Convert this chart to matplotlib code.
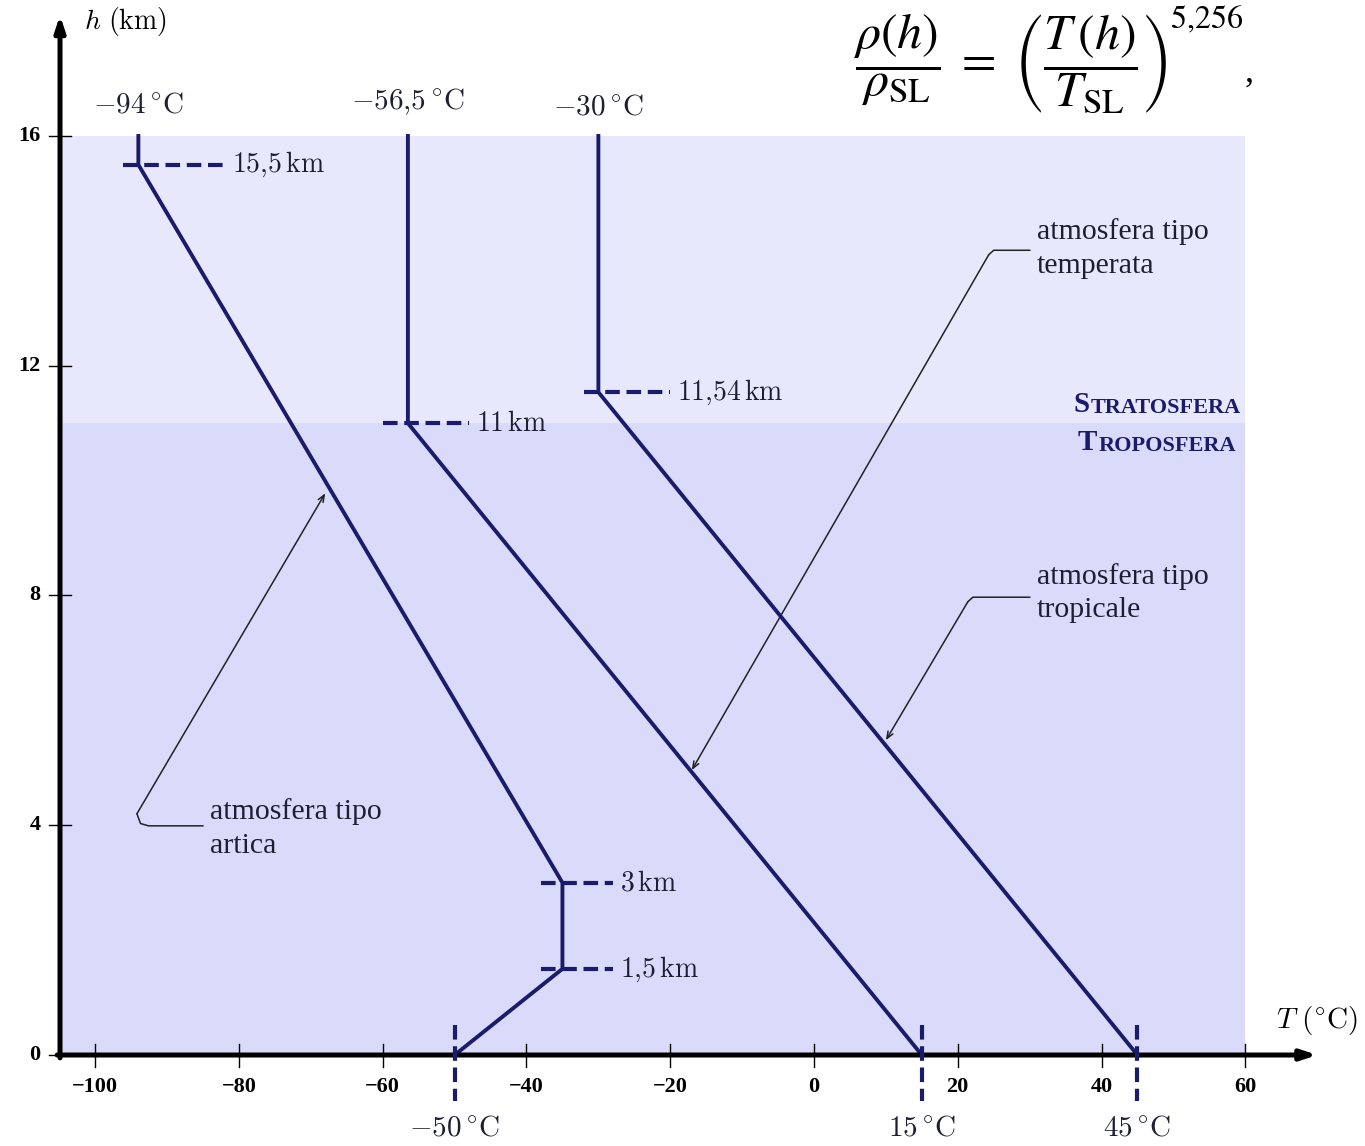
import matplotlib
matplotlib.use('Agg')
import matplotlib.pyplot as plt

# temperature profiles (T in degC, h in km)
arctic_T = [-50, -35, -35, -94, -94]
arctic_h = [0, 1.5, 3, 15.5, 16]
temperate_T = [15, -56.5, -56.5]
temperate_h = [0, 11, 16]
tropical_T = [45, -30, -30]
tropical_h = [0, 11.54, 16]

# breakpoints marked with a dashed tick and a height label
break_T = [-94, -56.5, -30, -35, -35]
break_h = [15.5, 11, 11.54, 3, 1.5]
break_labels = [r'$15{,}5\,\mathrm{km}$', r'$11\,\mathrm{km}$', r'$11{,}54\,\mathrm{km}$',
                r'$3\,\mathrm{km}$', r'$1{,}5\,\mathrm{km}$']

ground_T = [-50, 15, 45]
ground_labels = [r'$-50\,^{\circ}\mathrm{C}$', r'$15\,^{\circ}\mathrm{C}$', r'$45\,^{\circ}\mathrm{C}$']
top_T = [-94, -56.5, -30]
top_labels = [r'$-94\,^{\circ}\mathrm{C}$', r'$-56{,}5\,^{\circ}\mathrm{C}$', r'$-30\,^{\circ}\mathrm{C}$']

xticks = [-100, -80, -60, -40, -20, 0, 20, 40, 60]
yticks = [0, 4, 8, 12, 16]

NAVY = '#1b1b6b'
TXT = '#1e1e33'
SERIF = 'Liberation Serif'
DASH = (0, (3.5, 1.6))

fig = plt.figure(figsize=(13.65, 11.46), dpi=100)
ax = fig.add_axes([0, 0, 1, 1])
ax.set_xlim(-113.25, 76.66)
ax.set_ylim(-1.584, 18.367)
ax.axis('off')

# layers
ax.fill_between([-105, 60], 11, 16, color='#e8e8fc', lw=0, zorder=0)
ax.fill_between([-105, 60], 0, 11, color='#dadafb', lw=0, zorder=0)

# axes with arrows
ax.annotate('', xy=(70, 0), xytext=(-105.3, 0),
            arrowprops=dict(arrowstyle='-|>,head_length=0.9,head_width=0.3',
                            lw=3.6, color='black', shrinkA=0, shrinkB=0), zorder=5)
ax.annotate('', xy=(-104.9, 18.1), xytext=(-104.9, -0.05),
            arrowprops=dict(arrowstyle='-|>,head_length=0.9,head_width=0.3',
                            lw=3.6, color='black', shrinkA=0, shrinkB=0), zorder=5)

for t in xticks:
    ax.plot([t, t], [-0.2, 0.2], color='black', lw=1.0, zorder=6)
    ax.text(t, -0.55, '\u2212' + str(abs(t)) if t < 0 else str(t), ha='center', va='center',
            fontsize=16, fontweight='bold', family=SERIF)
for h in yticks:
    ax.plot([-106.4, -103.4], [h, h], color='black', lw=1.0, zorder=6)
    ax.text(-107.6, h, str(h), ha='right', va='center',
            fontsize=16, fontweight='bold', family=SERIF)

ax.text(-101.6, 18.0, r'$h\ (\mathrm{km})$', fontsize=20, va='center',
        math_fontfamily='cm')
ax.text(64.3, 0.6, r'$T\ (^{\circ}\mathrm{C})$', fontsize=21, va='center',
        math_fontfamily='cm')

# profiles
for T, h in [(arctic_T, arctic_h), (temperate_T, temperate_h), (tropical_T, tropical_h)]:
    ax.plot(T, h, color=NAVY, lw=2.8, solid_joinstyle='miter', zorder=4)

dash_left = [2.2, 3.5, 2.0, 3.0, 3.0]
dash_right = [12.0, 8.5, 10.0, 7.0, 7.0]
for T, h, lab, dl, dr in zip(break_T, break_h, break_labels, dash_left, dash_right):
    ax.plot([T - dl, T + dr], [h, h], color=NAVY, lw=3.0, ls=DASH, zorder=4)
    ax.text(T + dr + 1.0, h, lab, fontsize=20, va='center', ha='left', color=TXT,
            math_fontfamily='cm')

for T, lab in zip(ground_T, ground_labels):
    ax.plot([T, T], [0.52, -0.8], color=NAVY, lw=3.0, ls=DASH, zorder=7)
    ax.text(T, -1.27, lab, fontsize=21, ha='center', va='center', color=TXT,
            math_fontfamily='cm')

top_y = [16.54, 16.6, 16.52]
for T, lab, y in zip(top_T, top_labels, top_y):
    ax.text(T, y, lab, fontsize=21, ha='center', va='center', color=TXT,
            math_fontfamily='cm')


def connector(pts, text, text_xy):
    xs = [p[0] for p in pts[:-1]]
    ys = [p[1] for p in pts[:-1]]
    ax.plot(xs, ys, color='#222222', lw=1.1, solid_capstyle='round', zorder=3)
    ax.annotate('', xy=pts[-1], xytext=pts[-2],
                arrowprops=dict(arrowstyle='->,head_length=0.5,head_width=0.2',
                                lw=1.1, color='#222222', shrinkA=0, shrinkB=0), zorder=3)
    ax.text(text_xy[0], text_xy[1], text, fontsize=21.5, family=SERIF, color=TXT,
            ha='left', va='top', linespacing=1.38)


connector([(-85.0, 3.99), (-92.6, 3.99), (-93.7, 4.03), (-94.2, 4.2), (-68.0, 9.78)],
          'atmosfera tipo\nartica', (-84.0, 4.47))
connector([(30.05, 14.01), (25.0, 14.01), (24.3, 13.93), (-17.0, 4.96)],
          'atmosfera tipo\ntemperata', (31.0, 14.57))
connector([(30.05, 7.97), (22.1, 7.97), (21.4, 7.89), (10.0, 5.48)],
          'atmosfera tipo\ntropicale', (31.0, 8.57))

# layer names in small caps
for word, y, xr in [('STRATOSFERA', 11.18, 59.4), ('TROPOSFERA', 10.52, 58.7)]:
    rest = ax.text(xr, y, word[1:], fontsize=16, family=SERIF, fontweight='bold',
                   color=NAVY, ha='right', va='baseline')
    ax.annotate(word[0], xy=(0, 0), xycoords=rest, xytext=(-1, 0),
                textcoords='offset points', fontsize=21, family=SERIF,
                fontweight='bold', color=NAVY, ha='right', va='bottom')

# density relation; the exponent is set on its own so it sits high and small
ax.text(5.4, 17.25,
        r'$\dfrac{\rho(h)}{\rho_{\mathrm{SL}}}\; = \;\left(\dfrac{T\,(h)}{T_{\mathrm{SL}}}\right)$',
        fontsize=36, ha='left', va='center', color='black', math_fontfamily='stix')
ax.text(49.5, 18.02, r'$5{,}256$', fontsize=23, ha='left', va='center', color='black',
        math_fontfamily='stix')
ax.text(59.9, 17.1, ',', fontsize=26, ha='left', va='center', family=SERIF)

fig.savefig('out.png', dpi=100)
